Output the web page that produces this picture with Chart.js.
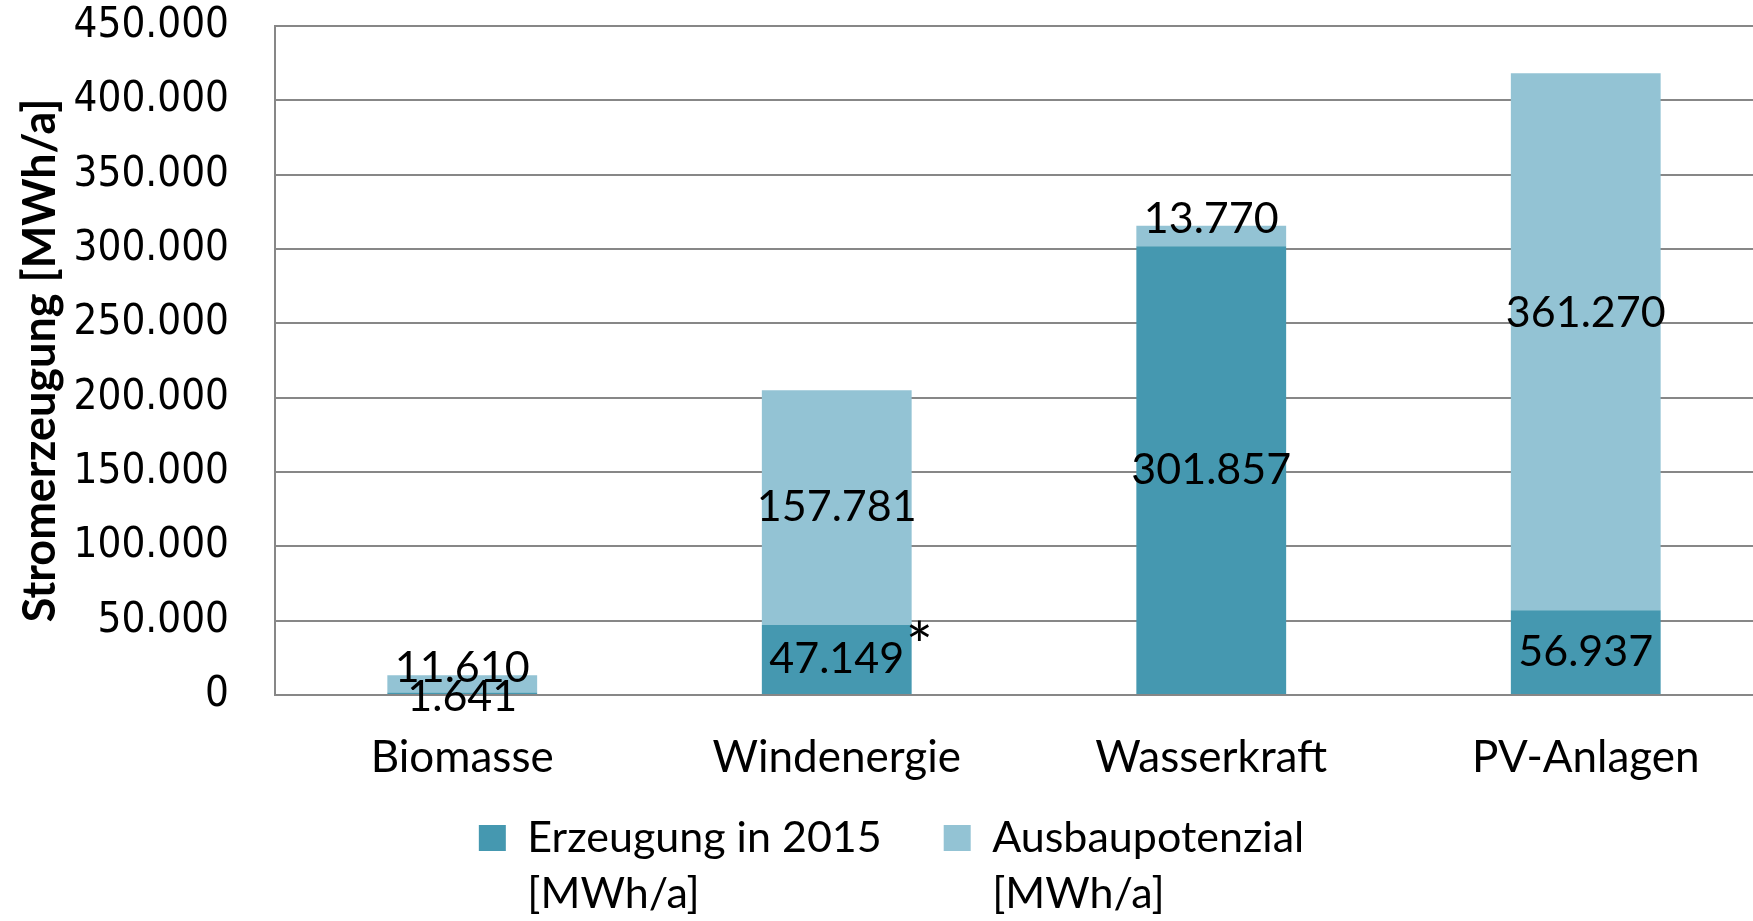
<!DOCTYPE html>
<html>
<head>
<meta charset="utf-8">
<script src="https://cdn.jsdelivr.net/npm/chart.js@4.4.1/dist/chart.umd.min.js"></script>
<style>
  html, body { margin: 0; padding: 0; background: #fff; overflow: hidden; }
  #wrap { width: 1773px; height: 921px; }
</style>
</head>
<body>
<div id="wrap"><canvas id="myChart" width="1773" height="921"></canvas></div>
<script>
// Daten
const categories = ['Biomasse', 'Windenergie', 'Wasserkraft', 'PV-Anlagen'];
const erzeugung2015 = [1641, 47149, 301857, 56937];
const ausbaupotenzial = [11610, 157781, 13770, 361270];
const footnotes = ['', '*', '', ''];
const yTickLabels = ['0', '50.000', '100.000', '150.000', '200.000', '250.000',
                     '300.000', '350.000', '400.000', '450.000'];
const legendLines = [['Erzeugung in 2015', '[MWh/a]'], ['Ausbaupotenzial', '[MWh/a]']];

const darkColor = '#4598b0';
const lightColor = '#93c3d4';
const gridColor = '#878787';
const labelFont = 'Lato, "Noto Sans", sans-serif';
const tickFont = '"DejaVu Sans Condensed", "DejaVu Sans", sans-serif';

function formatDE(v) {
    return String(v).replace(/\B(?=(\d{3})+(?!\d))/g, '.');
}

// Werte in die Balken schreiben (Chart.js hat keine eigenen Datenlabels)
const barLabels = {
    id: 'barLabels',
    afterDatasetsDraw(chart, args, opts) {
        const ctx = chart.ctx;
        ctx.save();
        ctx.font = opts.font;
        ctx.fillStyle = '#000';
        ctx.textAlign = 'center';
        ctx.textBaseline = 'middle';
        chart.data.datasets.forEach(function(ds, d) {
            chart.getDatasetMeta(d).data.forEach(function(bar, i) {
                let y = (bar.y + bar.base) / 2;
                if (bar.base - bar.y < 30) {
                    // kleine Segmente: Label an den Rand schieben
                    y = d === 0 ? bar.base + 3 : bar.y - 7;
                }
                y += opts.nudge[d + '-' + i] || 0;
                ctx.fillText(formatDE(ds.data[i]), bar.x, y);
            });
        });
        // Fußnoten neben dem unteren Balken
        ctx.font = opts.noteFont;
        ctx.textAlign = 'left';
        ctx.textBaseline = 'alphabetic';
        chart.getDatasetMeta(0).data.forEach(function(bar, i) {
            if (footnotes[i]) {
                ctx.fillText(footnotes[i], bar.x + bar.width / 2 - 6, bar.y + 44);
            }
        });
        ctx.restore();
    }
};

// Legende: zweizeilige Einträge, Legende verschieben
// und den Clip-Bereich bis zum Canvas-Rand erweitern
const legendFix = {
    id: 'legendFix',
    afterLayout(chart, args, opts) {
        const lg = chart.legend;
        lg.top += opts.shiftY;
        lg.left += opts.shiftX;
        lg.right += opts.shiftX;
        lg.bottom = chart.height;
        lg.height = lg.bottom - lg.top;
    }
};

const myChart = document.getElementById('myChart').getContext('2d');
const chart1 = new Chart(myChart, {
    type: 'bar',
    data: {
        labels: categories,
        datasets: [{
            label: 'Erzeugung in 2015 [MWh/a]',
            data: erzeugung2015,
            backgroundColor: darkColor,
            borderWidth: 0
        }, {
            label: 'Ausbaupotenzial [MWh/a]',
            data: ausbaupotenzial,
            backgroundColor: lightColor,
            borderWidth: 0
        }]
    },
    plugins: [barLabels, legendFix],
    options: {
        responsive: false,
        animation: false,
        layout: { padding: { top: 26, bottom: 21, left: 0, right: 0 } },
        datasets: { bar: { barPercentage: 0.4, categoryPercentage: 1.0 } },
        scales: {
            x: {
                stacked: true,
                grid: { display: false, drawTicks: false },
                border: { display: true, color: gridColor, width: 2 },
                ticks: { color: '#000', padding: 36, font: { family: labelFont, size: 44 } },
                afterFit: function(scale) { scale.height = 90; }
            },
            y: {
                stacked: true,
                min: 0,
                max: 450000,
                grid: { color: gridColor, lineWidth: 2, drawTicks: false },
                border: { display: true, color: gridColor, width: 2 },
                ticks: {
                    stepSize: 50000,
                    color: '#000',
                    padding: 46,
                    font: { family: tickFont, size: 41.8 },
                    callback: function(v, i) { return yTickLabels[i]; }
                },
                title: {
                    display: true,
                    text: 'Stromerzeugung [MWh/a]',
                    color: '#000',
                    padding: { top: 13, bottom: 0 },
                    font: { family: labelFont, size: 45, weight: 'bold' }
                },
                afterFit: function(scale) {
                    scale.width = 275;
                    scale.paddingTop = 0;
                    scale.paddingBottom = 0;
                }
            }
        },
        plugins: {
            legend: {
                position: 'bottom',
                labels: {
                    color: '#000',
                    boxWidth: 27,
                    boxHeight: 26,
                    padding: 62,
                    font: { family: labelFont, size: 43, lineHeight: 1.302 },
                    generateLabels: function(chart) {
                        const items = Chart.defaults.plugins.legend.labels.generateLabels(chart);
                        items.forEach(function(item, i) {
                            const t = legendLines[i].slice();
                            // Breite nur nach der ersten Zeile messen lassen
                            t.toString = function() { return t[0]; };
                            item.text = t;
                            item.lineWidth = 0;
                        });
                        return items;
                    }
                }
            },
            legendFix: { shiftY: -30.5, shiftX: 5 },
            tooltip: { enabled: false },
            barLabels: {
                font: '43px ' + labelFont,
                noteFont: '64px ' + labelFont,
                nudge: { '1-3': -29 }
            }
        }
    }
});
</script>
</body>
</html>
